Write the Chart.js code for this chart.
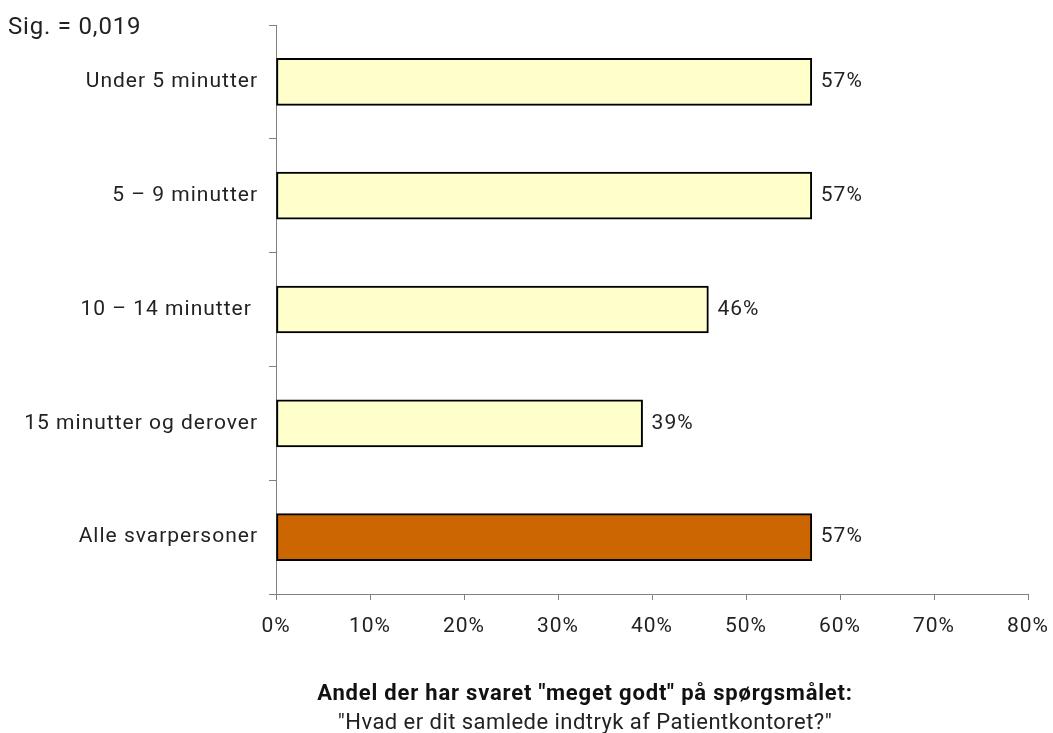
<!DOCTYPE html>
<html>
<head>
<meta charset="utf-8">
<script src="https://cdn.jsdelivr.net/npm/chart.js@4"></script>
<style>
  body { margin: 0; background: #fff; font-family: Roboto, sans-serif; }
  #wrap { position: relative; width: 1053px; height: 733px; }
  #sig { position: absolute; left: 8px; top: 12px; font-size: 24px; letter-spacing: 0.8px; color: #222; white-space: nowrap; }
  #t1, #t2 { position: absolute; left: 285px; width: 600px; text-align: center; font-size: 22px; white-space: nowrap; }
  #t1 { top: 680px; font-weight: bold; letter-spacing: 0.8px; color: #111; }
  #t2 { top: 709px; letter-spacing: 0.45px; color: #222; }
</style>
</head>
<body>
<div id="wrap">
  <canvas id="c" width="1053" height="733"></canvas>
  <div id="sig">Sig. = 0,019</div>
  <div id="t1">Andel der har svaret "meget godt" på spørgsmålet:</div>
  <div id="t2">"Hvad er dit samlede indtryk af Patientkontoret?"</div>
</div>
<script>
const categories = ['Under 5 minutter', '5 – 9 minutter', '10 – 14 minutter ', '15 minutter og derover', 'Alle svarpersoner'];
const shares = [57, 57, 46, 39, 57];
const barColors = ['#FFFFCC', '#FFFFCC', '#FFFFCC', '#FFFFCC', '#CC6600'];
const xTicks = [0, 10, 20, 30, 40, 50, 60, 70, 80];

// the original font is wider than Roboto, so space the letters a bit
const spacing = {
  id: 'spacing',
  beforeDraw(chart) { chart.ctx.letterSpacing = '1px'; }
};

// write the percentage just right of each bar
const valueLabels = {
  id: 'valueLabels',
  afterDatasetsDraw(chart) {
    const ctx = chart.ctx;
    const meta = chart.getDatasetMeta(0);
    ctx.save();
    ctx.letterSpacing = '1px';
    ctx.font = '21px Roboto';
    ctx.fillStyle = '#222';
    ctx.textBaseline = 'middle';
    meta.data.forEach((bar, i) => {
      ctx.fillText(shares[i] + '%', bar.x + 9, bar.y);
    });
    ctx.restore();
  }
};

new Chart(document.getElementById('c').getContext('2d'), {
  type: 'bar',
  data: {
    labels: categories,
    datasets: [{
      data: shares,
      backgroundColor: barColors,
      borderColor: '#000',
      borderWidth: 2,
      borderSkipped: false,
      barThickness: 47
    }]
  },
  plugins: [spacing, valueLabels],
  options: {
    indexAxis: 'y',
    responsive: false,
    animation: false,
    layout: { padding: { top: 25, right: 25, bottom: 79, left: 0 } },
    plugins: { legend: { display: false }, tooltip: { enabled: false } },
    scales: {
      x: {
        min: 0,
        max: 80,
        afterBuildTicks: axis => { axis.ticks = xTicks.map(v => ({ value: v })); },
        afterFit: axis => { axis.height = 60; axis.paddingRight = 0; axis.paddingLeft = 0; },
        ticks: {
          callback: v => v + '%',
          color: '#222',
          font: { family: 'Roboto', size: 21 },
          padding: 14
        },
        grid: { drawOnChartArea: false, tickLength: 6, tickColor: '#808080' },
        border: { color: '#808080', width: 1 }
      },
      y: {
        afterFit: axis => { axis.width = 276; axis.paddingTop = 0; axis.paddingBottom = 0; },
        ticks: {
          color: '#222',
          font: { family: 'Roboto', size: 21 },
          padding: 11
        },
        grid: { drawOnChartArea: false, tickLength: 7, tickColor: '#808080', offset: true },
        border: { color: '#808080', width: 1 }
      }
    }
  }
});
</script>
</body>
</html>
